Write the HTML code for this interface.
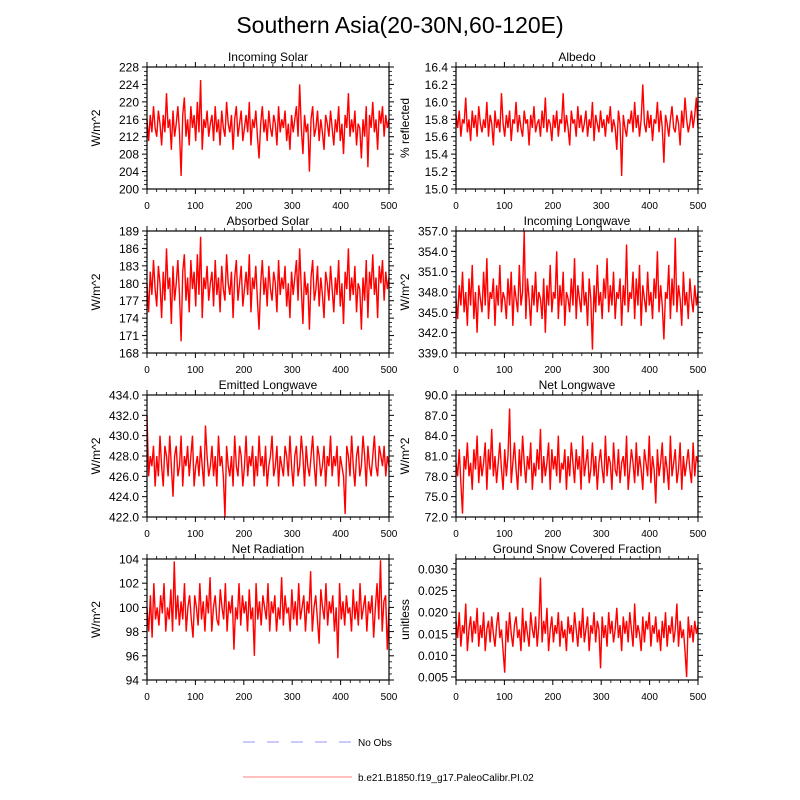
<!DOCTYPE html>
<html><head><meta charset="utf-8"><style>
body{margin:0;background:#fff;}
svg{display:block;font-family:"Liberation Sans",sans-serif;}
</style></head><body>
<svg id="chart" width="800" height="800" viewBox="0 0 800 800">
<text x="400" y="33" font-size="23" text-anchor="middle">Southern Asia(20-30N,60-120E)</text>
<g>
<line x1="243" y1="742" x2="352" y2="742" stroke="#aaaaff" stroke-width="1.2" stroke-dasharray="12,12"/>
<text x="358" y="746" font-size="10">No Obs</text>
<line x1="243" y1="777" x2="352" y2="777" stroke="#ff9999" stroke-width="1.2"/>
<text x="358" y="781" font-size="10">b.e21.B1850.f19_g17.PaleoCalibr.PI.02</text>
</g>
</svg>
<script>
const xTicks=[0,100,200,300,400,500];
const titles=["Incoming Solar","Albedo","Absorbed Solar","Incoming Longwave","Emitted Longwave","Net Longwave","Net Radiation","Ground Snow Covered Fraction"];
const yUnits=["W/m^2","% reflected","W/m^2","W/m^2","W/m^2","W/m^2","W/m^2","unitless"];
const yTicks0=[200,204,208,212,216,220,224,228];
const yTicks1=[15.0,15.2,15.4,15.6,15.8,16.0,16.2,16.4];
const yTicks2=[168,171,174,177,180,183,186,189];
const yTicks3=[339,342,345,348,351,354,357];
const yTicks4=[422,424,426,428,430,432,434];
const yTicks5=[72,75,78,81,84,87,90];
const yTicks6=[94,96,98,100,102,104];
const yTicks7=[0.005,0.010,0.015,0.020,0.025,0.030];
const s0=[216,211,217,213,219,214,212,218,215,210,217,213,222,214,216,209,218,212,215,219,213,203,217,221,212,216,210,219,214,217,211,220,213,225,209,216,214,218,212,215,217,211,219,213,216,210,218,214,212,220,215,213,217,209,216,219,212,215,218,211,214,217,213,220,210,216,214,218,212,207,215,219,213,216,211,218,214,212,217,215,210,219,213,216,214,218,211,215,209,217,213,216,219,212,224,214,208,217,213,215,204,216,219,212,214,218,211,216,213,209,217,215,212,218,214,210,216,213,219,211,215,208,217,214,222,212,216,213,218,210,215,214,207,216,212,219,205,217,214,220,213,216,209,218,215,219,212,217,214,216];
const s1=[15.85,15.7,15.9,15.6,15.8,15.75,16.05,15.65,15.8,15.55,15.9,15.7,15.85,15.6,15.95,15.75,15.65,15.8,15.7,16.0,15.6,15.85,15.75,15.5,15.9,15.7,15.8,15.65,16.1,15.75,15.6,15.85,15.7,15.9,15.55,15.8,15.75,16.0,15.65,15.85,15.7,15.6,15.9,15.75,15.8,15.5,15.85,15.7,15.95,15.65,15.75,15.8,15.6,15.9,15.7,16.05,15.65,15.8,15.75,15.55,15.85,15.7,15.9,15.6,15.8,15.75,16.1,15.65,15.85,15.7,15.5,15.9,15.75,15.8,15.6,15.95,15.7,15.85,15.65,15.75,15.9,15.6,15.8,15.7,16.0,15.55,15.85,15.75,15.65,15.9,15.7,15.8,15.6,15.85,15.75,15.95,15.65,15.8,15.7,15.45,15.9,15.75,15.15,15.85,15.7,15.6,15.8,15.75,15.9,15.65,16.0,15.7,15.85,15.6,15.8,16.2,15.75,15.65,15.9,15.7,15.85,15.55,15.8,15.75,16.0,15.65,15.9,15.7,15.3,15.85,15.75,15.6,15.8,15.95,15.7,15.65,15.85,15.75,15.5,15.9,15.7,16.05,15.8,15.65,15.75,15.9,15.7,15.85,16.05,15.7];
const s2=[180,175,182,178,184,179,176,183,180,174,182,177,186,179,181,173,183,177,180,184,178,170,182,185,177,181,175,184,179,182,176,185,178,188,174,181,179,183,177,180,182,176,184,178,181,175,183,179,177,185,180,178,182,174,181,184,177,180,183,176,179,182,178,185,175,181,179,183,177,172,180,184,178,181,176,183,179,177,182,180,175,184,178,181,179,183,176,180,174,182,178,181,184,177,186,179,173,182,178,180,172,181,184,177,179,183,176,181,178,174,182,180,177,183,179,175,181,178,184,176,180,173,182,179,186,177,181,178,183,175,180,179,172,181,177,184,174,182,179,185,178,181,174,183,180,184,177,182,179,181];
const s3=[347,344,349,346,351,345,348,343,350,346,352,344,348,342,349,347,345,351,346,353,344,348,347,350,343,349,346,352,345,348,347,344,350,346,351,343,349,347,345,352,346,348,357,344,350,347,343,349,346,351,345,348,347,344,350,342,349,346,352,345,348,347,354,344,349,346,351,343,348,347,345,350,346,353,344,349,347,345,351,346,348,343,350,347,339.5,349,345,352,346,348,344,350,347,353,345,349,346,351,344,348,347,350,343,349,346,355,345,348,347,351,344,350,346,352,343,349,347,345,351,346,348,344,350,347,354,345,349,346,341,348,347,352,344,350,346,356,345,349,347,343,351,346,348,344,350,347,345,349,346,348];
const s4=[432,426,428,427,429,425,428,426,430,427,425,429,428,426,430,427,424,428,429,426,427,430,425,428,427,429,426,428,430,425,427,428,426,429,427,425,431,428,426,427,429,426,428,425,430,427,428,426,422,429,427,426,428,425,430,427,426,429,428,425,427,430,426,428,427,429,425,428,426,430,427,428,426,429,425,427,428,430,426,427,429,425,428,427,426,429,428,426,430,427,425,428,429,426,427,430,428,425,429,427,426,428,430,427,425,429,428,426,427,429,425,428,427,430,426,428,427,429,425,428,427,426,422.3,429,428,426,430,427,425,428,429,426,427,430,428,425,429,427,426,428,430,427,426,429,428,427,429,426,428,427];
const s5=[80,78,82,77,72.5,81,79,83,78,80,76,82,79,84,77,81,78,80,83,76,82,79,85,78,81,77,80,83,79,76,82,78,81,88,77,80,83,79,76,82,78,84,80,77,81,79,83,76,80,78,82,79,85,77,81,78,80,83,76,82,79,81,78,84,77,80,79,82,76,81,78,83,80,77,82,79,81,76,84,78,80,82,77,79,83,78,81,76,80,82,79,77,84,78,81,80,76,83,79,78,82,77,80,81,78,84,76,79,82,80,77,83,78,81,79,76,82,80,78,84,77,81,79,74,82,78,80,83,77,81,79,76,84,78,80,82,77,79,83,76,81,78,80,82,79,77,83,78,81,80];
const s6=[100,98,101,97.5,102,99,100,98.5,101,99.5,102,98,100,99,101.5,98,103.8,99,101,98.5,100.5,99,102,98,100,101,99,97.5,101,100,98.5,102,99,100.5,98,101,99.5,102.5,98,100,101,99,98.5,101.5,100,99,102,98,100.5,99.5,101,96.5,100,99,102,98.5,101,99.5,100.5,98,101.5,99,100,96,102,99,100.5,98.5,101,100,99,102,98,100.5,99.5,101,98,100,99,102.5,98.5,101,99.5,100,98,101.5,99,100.5,98.5,102,99,100,101,98,100.5,99.5,103,98,100,101,99,97,101.5,100,99,102,98.5,100.5,99.5,101,98,100,95.8,102,99,100.5,98.5,101,99.5,100,98,101.5,99,100.5,98.5,102,99,100,101,98,100.5,99.5,101,97.5,100,102,99,103.9,98,100.5,101,96.5,100];
const s7=[0.018,0.014,0.02,0.012,0.017,0.015,0.022,0.011,0.016,0.019,0.013,0.018,0.015,0.021,0.012,0.017,0.014,0.02,0.011,0.016,0.018,0.013,0.019,0.015,0.012,0.017,0.02,0.014,0.016,0.011,0.006,0.018,0.013,0.02,0.015,0.012,0.017,0.019,0.014,0.016,0.011,0.021,0.013,0.018,0.015,0.012,0.02,0.016,0.014,0.019,0.012,0.017,0.028,0.013,0.018,0.015,0.021,0.011,0.016,0.019,0.013,0.017,0.015,0.02,0.012,0.018,0.014,0.016,0.011,0.019,0.015,0.017,0.013,0.02,0.016,0.012,0.018,0.014,0.021,0.013,0.016,0.019,0.011,0.017,0.015,0.02,0.013,0.018,0.016,0.007,0.019,0.014,0.017,0.012,0.02,0.015,0.018,0.013,0.016,0.021,0.014,0.017,0.011,0.019,0.015,0.018,0.013,0.02,0.016,0.012,0.022,0.014,0.017,0.015,0.011,0.019,0.013,0.018,0.016,0.02,0.012,0.017,0.015,0.019,0.013,0.016,0.011,0.018,0.014,0.02,0.012,0.017,0.015,0.019,0.013,0.016,0.022,0.012,0.018,0.014,0.016,0.011,0.005,0.019,0.014,0.017,0.013,0.018,0.015,0.017];
const series=[s0,s1,s2,s3,s4,s5,s6,s7];
const yTicks=[yTicks0,yTicks1,yTicks2,yTicks3,yTicks4,yTicks5,yTicks6,yTicks7];
const yRanges=[[200,228],[15.0,16.4],[168,189],[339,357],[422,434],[72,90],[94,104],[0.0043,0.0323]];
const yDec=[0,1,0,1,1,1,0,3];

const NS="http://www.w3.org/2000/svg";
const svg=document.getElementById('chart');
const colX=[147,456], rowY=[[67,189],[231,353],[395,517],[559,680]], W=242;
function mk(tag,attrs,parent){const e=document.createElementNS(NS,tag);for(const k in attrs)e.setAttribute(k,attrs[k]);parent.appendChild(e);return e;}
for(let p=0;p<8;p++){
  const x0=colX[p%2], y0=rowY[Math.floor(p/2)][0], y1=rowY[Math.floor(p/2)][1];
  const [ymin,ymax]=yRanges[p];
  const sx=v=>x0+v/500*W;
  const sy=v=>y1-(v-ymin)/(ymax-ymin)*(y1-y0);
  const g=mk('g',{},svg);
  
  
  const d=series[p];
  let pts=d.map((v,i)=>sx(i*500/(d.length-1)).toFixed(2)+','+sy(v).toFixed(2)).join(' ');
  const line=mk('polyline',{points:pts,fill:'none',stroke:'#ff0000','stroke-width':1.4,'stroke-linejoin':'miter'},g);
  
  
  const box=mk('rect',{x:x0,y:y0,width:W,height:y1-y0,fill:'none',stroke:'#000','stroke-width':1.2},g);
  
  
  xTicks.forEach((t,i)=>{
    const x=sx(t);
    mk('line',{x1:x,y1:y1,x2:x,y2:y1+5,stroke:'#000','stroke-width':1},g);
    mk('line',{x1:x,y1:y0,x2:x,y2:y0-5,stroke:'#000','stroke-width':1},g);
    if(i<xTicks.length-1){for(let m=1;m<5;m++){const xm=sx(t+m*20);
      mk('line',{x1:xm,y1:y1,x2:xm,y2:y1+3,stroke:'#000','stroke-width':0.8},g);
      mk('line',{x1:xm,y1:y0,x2:xm,y2:y0-3,stroke:'#000','stroke-width':0.8},g);}}
    const tl=mk('text',{x:x,y:y1+20,'font-size':10,'text-anchor':'middle'},g);
    tl.textContent=t;
    
    
  });
  const yt=yTicks[p];
  yt.forEach((t,i)=>{
    const y=sy(t);
    mk('line',{x1:x0,y1:y,x2:x0-5,y2:y,stroke:'#000','stroke-width':1},g);
    mk('line',{x1:x0+W,y1:y,x2:x0+W+5,y2:y,stroke:'#000','stroke-width':1},g);
    const step=(yt[1]-yt[0]);
    for(let m=-3;m<4;m++){if(m===0)continue;const v=t+m*step/4; if(v<ymin||v>ymax)continue; if(m<0&&i>0)continue;
      const ym=sy(v);
      mk('line',{x1:x0,y1:ym,x2:x0-3,y2:ym,stroke:'#000','stroke-width':0.8},g);
      mk('line',{x1:x0+W,y1:ym,x2:x0+W+3,y2:ym,stroke:'#000','stroke-width':0.8},g);}
    const tl=mk('text',{x:x0-8,y:y+4.5,'font-size':12,'text-anchor':'end'},g);
    tl.textContent=t.toFixed(yDec[p]);
    
    
  });
  const tt=mk('text',{x:x0+W/2,y:y0-6,'font-size':12,'text-anchor':'middle'},g);
  tt.textContent=titles[p];
  
  
  const yl=mk('text',{x:0,y:0,'font-size':12,'text-anchor':'middle',transform:`translate(${x0-47},${(y0+y1)/2}) rotate(-90)`},g);
  yl.textContent=yUnits[p];
  
  
}
</script>
</body></html>
